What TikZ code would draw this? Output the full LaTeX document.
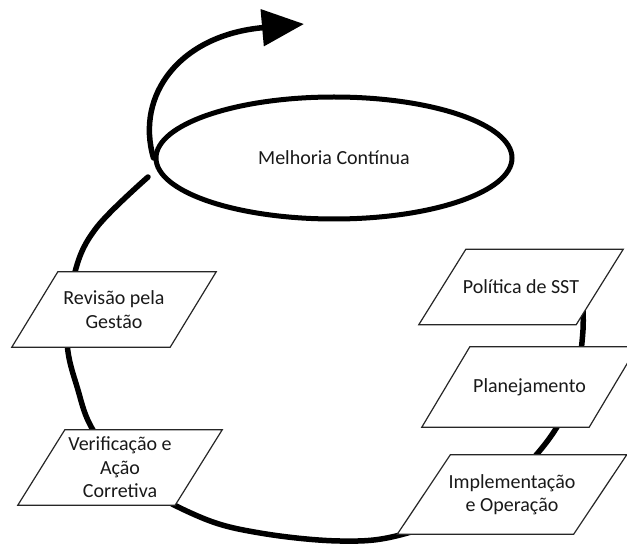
\documentclass[tikz,border=0pt]{standalone}
\usepackage{fontspec}
\newfontfamily\carlito{Carlito}
\usetikzlibrary{shapes.geometric, arrows.meta, backgrounds}

\tikzset{
	etapa/.style={align=center, text=black!90, inner sep=0pt},
	moldura/.style={draw=black!85, line width=1.2pt, fill=white},
	ciclo/.style={line width=5.5pt, line cap=round},
}
% parallelogram round a node: #1 node, #2 half of the slant
\newcommand\moldura[2]{%
	\filldraw[moldura] ([xshift=-#2]#1.south west) -- ([xshift=-#2]#1.south east)
		-- ([xshift=#2]#1.north east) -- ([xshift=#2]#1.north west) -- cycle;}

\begin{document}
\begin{tikzpicture}[x=1pt, y=-1pt, font=\carlito\fontsize{20}{23.5}\selectfont]
		\useasboundingbox (0,0) rectangle (627,545);

		\node[etapa, minimum width=157pt, minimum height=75pt] (politica) at (521,287) {Política de SST};
		\node[etapa, minimum width=167pt, minimum height=80pt] (planejamento) at (529.5,387) {Planejamento};
		\node[etapa, minimum width=176pt, minimum height=79pt] (implementacao) at (512,494.5) {Implementação\\e Operação};
		\node[etapa, minimum width=157pt, minimum height=75pt] (verificacao) at (120,467.5) {Verificação e\\Ação\\Corretiva};
		\node[etapa, minimum width=158pt, minimum height=75pt] (revisao) at (114,309.5) {Revisão pela\\Gestão};

		\begin{scope}[on background layer]
			% the big loop, behind the boxes
			\draw[ciclo] plot[smooth, tension=0.6] coordinates {(579,262) (583,330) (570,400) (537,454)
				(480,505) (400,535) (340,541) (260,533) (200,517) (130,478) (93,430) (78,390)
				(67,340) (75,272) (97,227) (148,177)};
			\moldura{politica}{23.5pt}
			\moldura{planejamento}{24pt}
			\moldura{implementacao}{26.5pt}
			\moldura{verificacao}{23.5pt}
			\moldura{revisao}{23pt}
		\end{scope}

		\node[draw, ellipse, line width=5pt, fill=white, text=black!90, inner sep=0pt,
			minimum width=356pt, minimum height=122pt] (melhoria) at (334,158) {Melhoria Contínua};

		\draw[ciclo, -{Triangle[length=42pt, width=36pt]}] (melhoria.west)
			.. controls (135,95) and (180,35) .. (304,24);
	\end{tikzpicture}
\end{document}
